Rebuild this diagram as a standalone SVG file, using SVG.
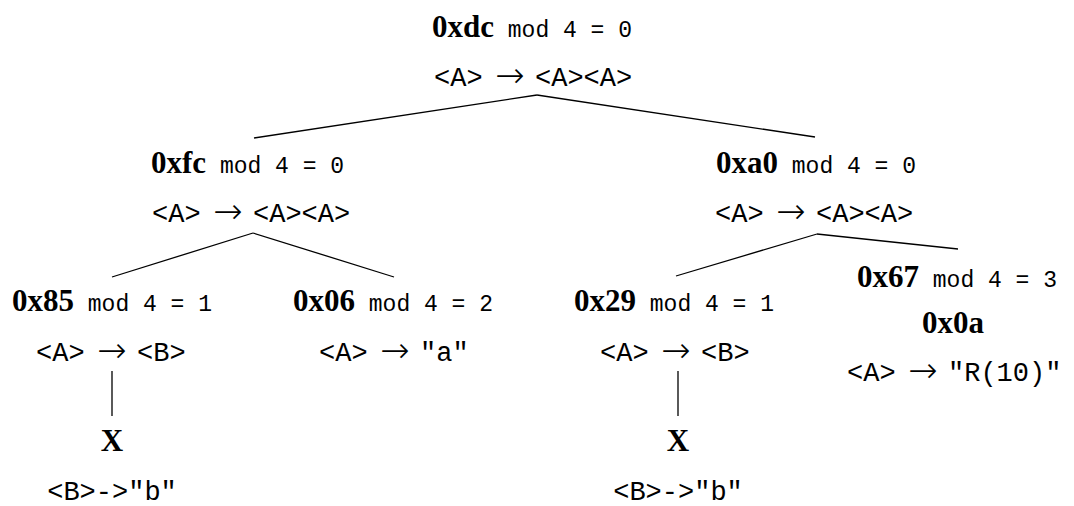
<svg xmlns="http://www.w3.org/2000/svg" width="1074" height="506" viewBox="0 0 1074 506">
<style>
.b{font-family:"Liberation Serif",serif;font-weight:bold;font-size:31px;fill:#000}
.m{font-family:"Liberation Mono",monospace;font-size:23px;fill:#000}
.r{font-family:"Liberation Mono",monospace;font-size:27px;fill:#000}
.ar{font-family:"DejaVu Sans",sans-serif;font-weight:200;font-size:35px;text-anchor:middle;fill:#000}
.c{text-anchor:middle}
.e{stroke:#000;stroke-width:1.3;fill:none}
</style>
<rect width="1074" height="506" fill="#fff"/>
<g id="connectors" class="e">
<line x1="537" y1="95" x2="254" y2="138"/>
<line x1="537" y1="95" x2="815" y2="137"/>
<line x1="253" y1="233" x2="112" y2="277"/>
<line x1="253" y1="233" x2="394" y2="277"/>
<line x1="817" y1="234" x2="676" y2="276"/>
<line x1="817" y1="234" x2="958" y2="249"/>
<line x1="112" y1="371" x2="112" y2="416"/>
<line x1="678" y1="371" x2="678" y2="416"/>
</g>
<g id="n-0xdc">
<text x="432" y="37"><tspan class="b">0xdc</tspan><tspan class="m"> mod 4 = 0</tspan></text>
<text class="r" x="434" y="86">&lt;A&gt;</text><text class="ar" x="510" y="87">→</text><text class="r" x="535" y="86">&lt;A&gt;&lt;A&gt;</text>
</g>
<g id="n-0xfc">
<text x="151" y="173"><tspan class="b">0xfc</tspan><tspan class="m"> mod 4 = 0</tspan></text>
<text class="r" x="152" y="222">&lt;A&gt;</text><text class="ar" x="228" y="223">→</text><text class="r" x="253" y="222">&lt;A&gt;&lt;A&gt;</text>
</g>
<g id="n-0xa0">
<text x="716" y="173"><tspan class="b">0xa0</tspan><tspan class="m"> mod 4 = 0</tspan></text>
<text class="r" x="715" y="222">&lt;A&gt;</text><text class="ar" x="791" y="223">→</text><text class="r" x="816" y="222">&lt;A&gt;&lt;A&gt;</text>
</g>
<g id="n-0x85">
<text x="12" y="311"><tspan class="b">0x85</tspan><tspan class="m"> mod 4 = 1</tspan></text>
<text class="r" x="36" y="361">&lt;A&gt;</text><text class="ar" x="112" y="362">→</text><text class="r" x="137" y="361">&lt;B&gt;</text>
</g>
<g id="n-0x06">
<text x="293" y="311"><tspan class="b">0x06</tspan><tspan class="m"> mod 4 = 2</tspan></text>
<text class="r" x="319" y="361">&lt;A&gt;</text><text class="ar" x="395" y="362">→</text><text class="r" x="420" y="361">"a"</text>
</g>
<g id="n-0x29">
<text x="574" y="311"><tspan class="b">0x29</tspan><tspan class="m"> mod 4 = 1</tspan></text>
<text class="r" x="600" y="361">&lt;A&gt;</text><text class="ar" x="676" y="362">→</text><text class="r" x="701" y="361">&lt;B&gt;</text>
</g>
<g id="n-0x67">
<text x="857" y="287"><tspan class="b">0x67</tspan><tspan class="m"> mod 4 = 3</tspan></text>
<text class="b c" x="953" y="333">0x0a</text>
<text class="r" x="847" y="381">&lt;A&gt;</text><text class="ar" x="923" y="382">→</text><text class="r" x="948" y="381">"R(10)"</text>
</g>
<g id="n-x1">
<text class="b c" x="112" y="451">X</text>
<text class="r c" x="112" y="500">&lt;B&gt;-&gt;"b"</text>
</g>
<g id="n-x2">
<text class="b c" x="678" y="451">X</text>
<text class="r c" x="678" y="500">&lt;B&gt;-&gt;"b"</text>
</g>
</svg>
